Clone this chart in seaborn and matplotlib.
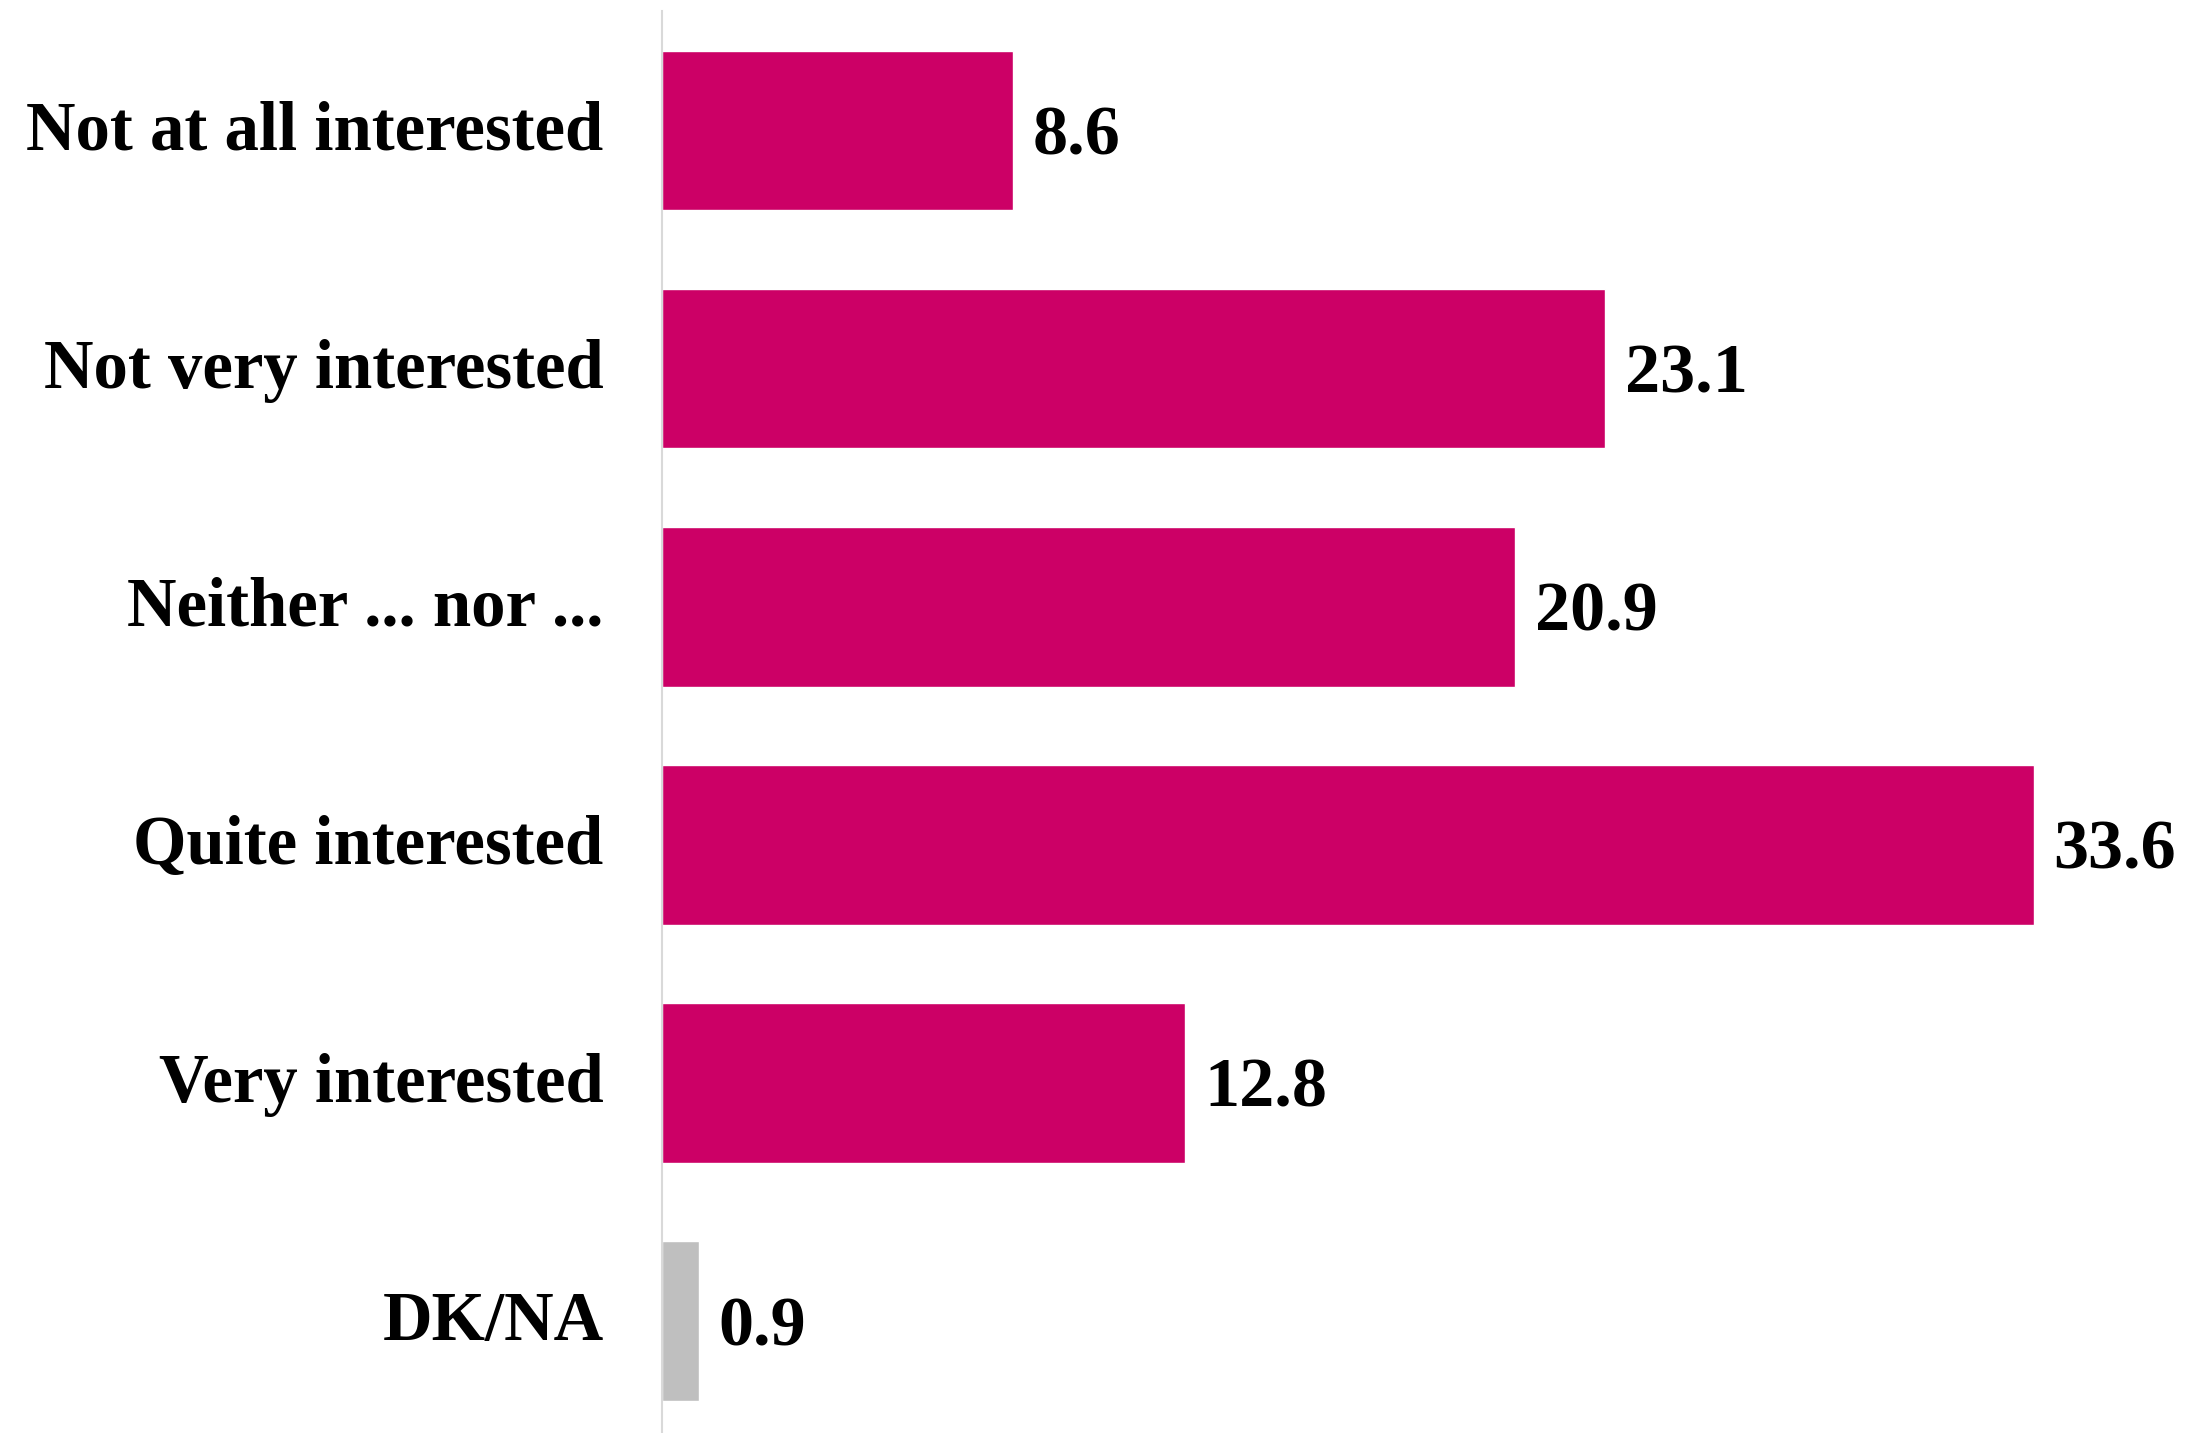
import matplotlib
matplotlib.use("Agg")
import matplotlib.pyplot as plt
import matplotlib.transforms as mtransforms
import seaborn as sns
import pandas as pd

categories = ["Not at all interested", "Not very interested", "Neither ... nor ...",
              "Quite interested", "Very interested", "DK/NA"]
values = [8.6, 23.1, 20.9, 33.6, 12.8, 0.9]
bar_colors = ["#CC0066", "#CC0066", "#CC0066", "#CC0066", "#CC0066", "#BFBFBF"]

sns.set_theme(style="white")
plt.rcParams["font.family"] = ["Liberation Serif", "DejaVu Serif"]

df = pd.DataFrame({"category": categories, "value": values})

fig = plt.figure(figsize=(21.93, 14.33), dpi=100)
ax = fig.add_axes([662 / 2193, -0.005, 1 - 662 / 2193, 0.997])
sns.barplot(data=df, x="value", y="category", hue="category", palette=bar_colors,
            legend=False, width=0.67, saturation=1, ax=ax)

ax.set_xlim(0, 37.5)
ax.set_ylim(5.5, -0.5)
ax.set_xlabel("")
ax.set_ylabel("")
ax.set_xticks([])
for side in ["top", "right", "bottom"]:
    ax.spines[side].set_visible(False)
ax.spines["left"].set_color("#D9D9D9")
ax.spines["left"].set_linewidth(1.5)
ax.tick_params(axis="y", length=0, pad=42)
shift_up = mtransforms.ScaledTranslation(0, 4 / 72, fig.dpi_scale_trans)
for lbl in ax.get_yticklabels():
    lbl.set_fontsize(49.5)
    lbl.set_fontweight("bold")
    lbl.set_color("black")
    lbl.set_transform(lbl.get_transform() + shift_up)

for i, v in enumerate(values):
    ax.annotate(f"{v:.1f}", xy=(v, i), xytext=(14, -5), textcoords="offset points",
                va="center", ha="left", fontsize=50.5, fontweight="bold", color="black")

fig.savefig("out.png", dpi=100)
